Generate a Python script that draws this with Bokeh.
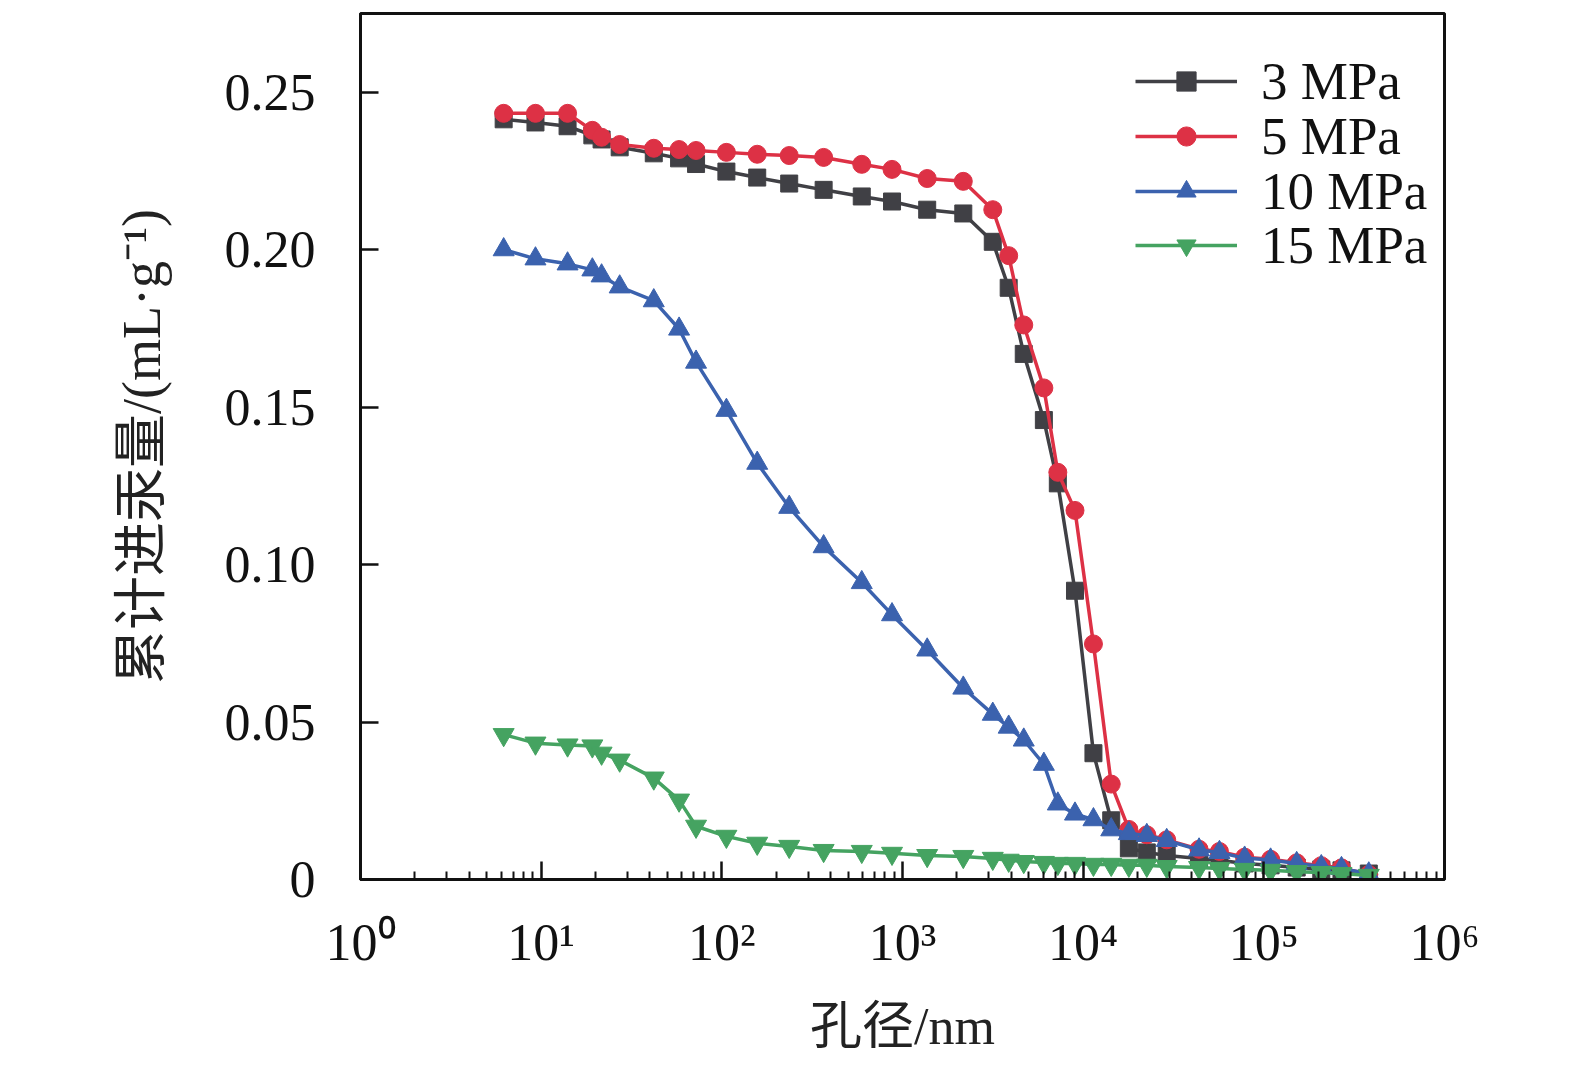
from bokeh.plotting import figure
from bokeh.models import FixedTicker, CustomJSTickFormatter, Legend, LegendItem, ColumnDataSource
from bokeh.embed import file_html
from bokeh.resources import INLINE

# pore diameter (nm), shared by all series
diam = [6.2, 9.3, 14.0, 19.2, 21.6, 27.2, 42, 58, 72, 106, 157, 236, 366, 595, 875,
        1370, 2170, 3160, 3870, 4690, 6060, 7240, 9010, 11400, 14300, 17900, 22500,
        29000, 43800, 56800, 78300, 109000, 152000, 208000, 269000, 381000]

mpa3 = [0.2414, 0.2404, 0.2392, 0.2363, 0.2350, 0.2325, 0.2306, 0.2290, 0.2272, 0.2248,
        0.2229, 0.2210, 0.2190, 0.2169, 0.2153, 0.2127, 0.2115, 0.2025, 0.1879, 0.1669,
        0.1459, 0.1258, 0.0917, 0.0401, 0.0188, 0.0099, 0.0086, 0.0076, 0.0067, 0.0061,
        0.0051, 0.0045, 0.0038, 0.0032, 0.0029, 0.0019]

mpa5 = [0.2433, 0.2433, 0.2433, 0.2379, 0.2357, 0.2334, 0.2322, 0.2318, 0.2315, 0.2309,
        0.2303, 0.2299, 0.2293, 0.2271, 0.2255, 0.2226, 0.2217, 0.2127, 0.1981, 0.1761,
        0.1561, 0.1293, 0.1172, 0.0748, 0.0303, 0.0159, 0.0142, 0.0126, 0.0096, 0.0089,
        0.0071, 0.0064, 0.0053, 0.0044, 0.0037, 0.0016]

mpa10 = [0.2000, 0.1971, 0.1955, 0.1936, 0.1917, 0.1882, 0.1838, 0.1748, 0.1643, 0.1490,
         0.1322, 0.1182, 0.1057, 0.0943, 0.0841, 0.0729, 0.0608, 0.0525, 0.0484, 0.0443,
         0.0366, 0.0240, 0.0208, 0.0190, 0.0158, 0.0146, 0.0140, 0.0124, 0.0094, 0.0086,
         0.0068, 0.0062, 0.0051, 0.0041, 0.0035, 0.0018]

mpa15 = [0.0460, 0.0433, 0.0427, 0.0424, 0.0401, 0.0379, 0.0322, 0.0252, 0.0169, 0.0137,
         0.0115, 0.0105, 0.0092, 0.0089, 0.0083, 0.0076, 0.0073, 0.0067, 0.0061, 0.0057,
         0.0054, 0.0051, 0.0051, 0.0048, 0.0048, 0.0045, 0.0045, 0.0041, 0.0038, 0.0035,
         0.0032, 0.0029, 0.0025, 0.0022, 0.0019, 0.0013]

labels = ["3 MPa", "5 MPa", "10 MPa", "15 MPa"]
colors = ["#404045", "#dd3145", "#3b62ae", "#45a361"]
markers = ["square", "circle", "triangle", "inverted_triangle"]
sizes = [17, 18, 21, 21]
series = [mpa3, mpa5, mpa10, mpa15]

y_ticks = [0, 0.05, 0.10, 0.15, 0.20, 0.25]
x_major = [1, 10, 100, 1000, 10000, 100000, 1000000]
x_minor = [k * 10 ** n for n in range(6) for k in range(2, 10)]

SERIF = "Liberation Serif"
MIXED = "Liberation Serif, Noto Sans CJK SC"

p = figure(width=1545, height=1057, x_axis_type="log",
           x_range=(1, 1e6), y_range=(0, 0.275),
           output_backend="svg", toolbar_location=None,
           min_border_left=360, min_border_right=101,
           min_border_top=13, min_border_bottom=176)
p.background_fill_color = "white"
p.border_fill_color = "white"
p.grid.visible = False
p.outline_line_color = "#111111"
p.outline_line_width = 3

# one legend per entry, so that rows sit at the same pitch as the reference
legend_rows_vy = [768, 713, 658, 604]
for lab, col, mk, sz, ys, vy in zip(labels, colors, markers, sizes, series, legend_rows_vy):
    src = ColumnDataSource(dict(x=diam, y=ys))
    r1 = p.line("x", "y", source=src, line_color=col, line_width=3.5)
    r2 = p.scatter("x", "y", source=src, marker=mk, size=sz,
                   fill_color=col, line_color=col, line_width=1)
    lg = Legend(items=[LegendItem(label=lab, renderers=[r1, r2])], location=(775, vy))
    lg.background_fill_alpha = 0
    lg.border_line_alpha = 0
    lg.margin = 0
    lg.padding = 0
    lg.spacing = 0
    lg.glyph_width = 102
    lg.glyph_height = 48
    lg.label_height = 48
    lg.label_standoff = 24
    lg.label_text_font = SERIF
    lg.label_text_font_size = "53px"
    lg.label_text_color = "#111111"
    lg.label_text_baseline = "middle"
    p.add_layout(lg)

xa = p.xaxis[0]
xa.ticker = FixedTicker(ticks=x_major, minor_ticks=x_minor)
xa.formatter = CustomJSTickFormatter(code="""
const sup = ['\u2070','\u00b9','\u00b2','\u00b3','\u2074','\u2075','\u2076','\u2077','\u2078','\u2079'];
const n = Math.round(Math.log10(tick));
return '10' + sup[n];
""")
ya = p.yaxis[0]
ya.ticker = FixedTicker(ticks=y_ticks, minor_ticks=[])
ya.formatter = CustomJSTickFormatter(code="return tick == 0 ? '0' : tick.toFixed(2);")

for ax in (xa, ya):
    ax.axis_line_width = 3
    ax.axis_line_color = "#111111"
    ax.major_tick_in = 18
    ax.major_tick_out = 0
    ax.major_tick_line_width = 2.5
    ax.major_tick_line_color = "#111111"
    ax.minor_tick_in = 8
    ax.minor_tick_out = 0
    ax.minor_tick_line_width = 2
    ax.minor_tick_line_color = "#111111"
    ax.major_label_text_font = SERIF
    ax.major_label_text_font_size = "52px"
    ax.major_label_text_color = "#111111"
    ax.axis_label_text_font = MIXED
    ax.axis_label_text_font_style = "normal"
    ax.axis_label_text_color = "#222222"

xa.axis_label = "孔径/nm"
xa.axis_label_text_font_size = "52px"
xa.major_label_standoff = 34
xa.axis_label_standoff = 24
ya.axis_label = "累计进汞量/(mL·g⁻¹)"
ya.axis_label_text_font_size = "54px"
ya.major_label_standoff = 45
ya.axis_label_standoff = 50

open("out.html", "w").write(file_html(p, INLINE))
